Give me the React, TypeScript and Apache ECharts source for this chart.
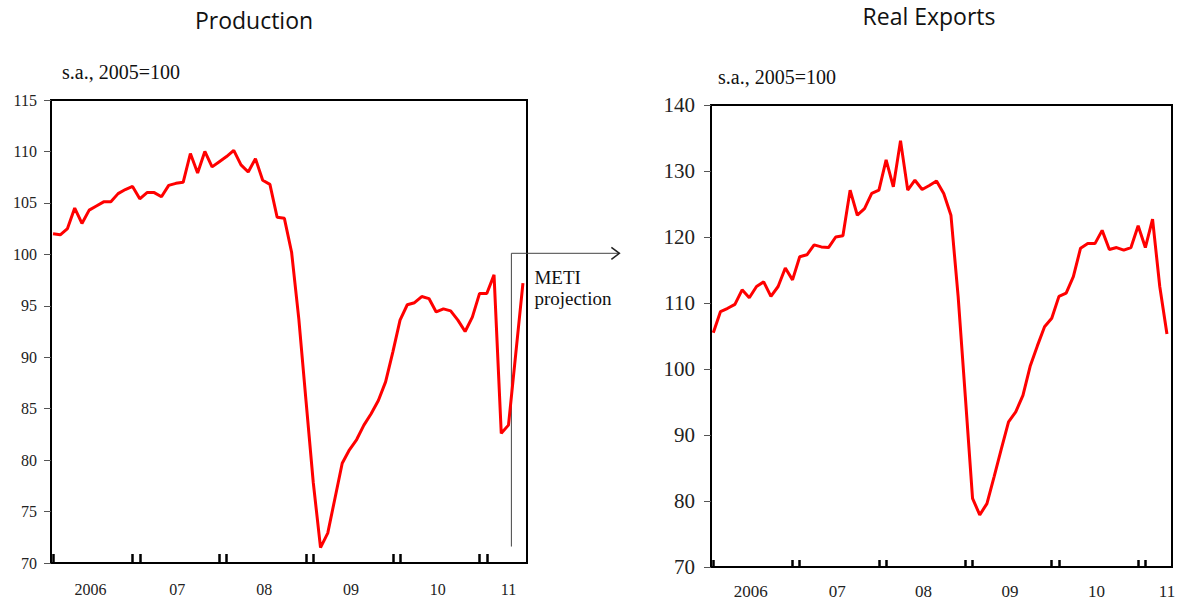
import React, { useEffect, useRef } from "react";
import * as echarts from "echarts";

// ---- Data (monthly, Jan 2006 onwards) ----
const yearLabels = ["2006", "07", "08", "09", "10", "11"];

// Production, s.a., 2005=100 (Jan 2006 – Jun 2011; May–Jun 2011 = METI projection)
const productionValues = [
  102.0, 101.9, 102.5, 104.5, 103.0, 104.3, 104.7, 105.1, 105.1, 105.9, 106.3, 106.6,
  105.4, 106.0, 106.0, 105.6, 106.7, 106.9, 107.0, 109.8, 107.9, 110.0, 108.5, 109.0,
  109.5, 110.1, 108.7, 108.0, 109.3, 107.2, 106.8, 103.6, 103.5, 100.2, 93.7, 85.7,
  77.8, 71.5, 72.9, 76.3, 79.7, 81.0, 82.0, 83.4, 84.5, 85.8, 87.6, 90.5,
  93.6, 95.1, 95.3, 95.9, 95.7, 94.4, 94.7, 94.5, 93.6, 92.5, 93.9, 96.2,
  96.2, 98.0, 82.6, 83.4, 90.3, 97.2,
];

// Real exports, s.a., 2005=100 (Jan 2006 – Apr 2011)
const exportValues = [
  105.5, 108.7, 109.2, 109.8, 112.0, 110.8, 112.5, 113.2, 111.0, 112.5, 115.3, 113.5,
  117.0, 117.3, 118.8, 118.5, 118.4, 120.0, 120.2, 127.1, 123.3, 124.3, 126.6, 127.1,
  131.7, 127.6, 134.6, 127.1, 128.6, 127.2, 127.8, 128.5, 126.6, 123.3, 111.0, 95.8,
  80.4, 77.9, 79.6, 83.7, 87.9, 92.0, 93.5, 96.0, 100.4, 103.5, 106.4, 107.7,
  111.0, 111.5, 114.0, 118.3, 119.0, 119.0, 121.0, 118.1, 118.4, 118.0, 118.4, 121.7,
  118.4, 122.7, 112.5, 105.3,
];

// METI projection marker: starts after April 2011 (month index 63)
const projectionStartIndex = 63.4;
const projectionTop = 100.1;
const projectionBottom = 71.6;

const serif = "'Liberation Serif', 'Times New Roman', serif";
const sans = "'Open Sans', 'Liberation Sans', sans-serif";

// tick positions at Dec/Jan pairs of each year boundary
const boundaryTicks = yearLabels.flatMap((_, k) => (k === 0 ? [0] : [12 * k - 1, 12 * k]));
const labelPositions = yearLabels.map((_, k) => (k === yearLabels.length - 1 ? 12 * k + 3 : 12 * k + 5.2));
const labelFor = (v: number) => {
  const k = labelPositions.findIndex((p) => Math.abs(p - v) < 1e-6);
  return k >= 0 ? yearLabels[k] : "";
};

function makeXAxis(gridIndex: number, min: number, max: number, fontSize: number, tickLen: number, margin: number) {
  return {
    type: "value",
    gridIndex,
    min,
    max,
    axisLine: { show: true, onZero: false, lineStyle: { color: "#000", width: 2 } },
    axisTick: {
      show: true,
      inside: true,
      length: tickLen,
      customValues: boundaryTicks,
      lineStyle: { color: "#000", width: 2.5 },
    },
    axisLabel: {
      show: true,
      customValues: labelPositions,
      formatter: (v: number) => labelFor(v),
      fontFamily: serif,
      fontSize,
      color: "#222",
      margin,
    },
    splitLine: { show: false },
  };
}

function makeYAxis(gridIndex: number, min: number, max: number, interval: number, fontSize: number, margin: number) {
  return {
    type: "value",
    gridIndex,
    min,
    max,
    interval,
    axisLine: { show: true, onZero: false, lineStyle: { color: "#000", width: 2 } },
    axisTick: { show: true, inside: false, length: 7, lineStyle: { color: "#555", width: 1 } },
    axisLabel: { fontFamily: serif, fontSize, color: "#222", margin },
    splitLine: { show: false },
  };
}

export default function App() {
  const ref = useRef<HTMLDivElement>(null);

  useEffect(() => {
    if (!ref.current) return;
    const chart = echarts.init(ref.current, undefined, { renderer: "svg", width: 1184, height: 601 });

    const option: any = {
      animation: false,
      backgroundColor: "#fff",
      grid: [
        { left: 51, top: 100, width: 476, height: 463, show: true, borderColor: "#000", borderWidth: 2, backgroundColor: "transparent" },
        { left: 711, top: 105, width: 461, height: 462, show: true, borderColor: "#000", borderWidth: 2, backgroundColor: "transparent" },
      ],
      xAxis: [
        makeXAxis(0, -0.28, 65.56, 16, 9, 18),
        makeXAxis(1, -0.32, 63.7, 17, 7, 16),
      ],
      yAxis: [
        makeYAxis(0, 70, 115, 5, 16, 14),
        makeYAxis(1, 70, 140, 10, 21, 16),
      ],
      series: [
        {
          type: "line",
          name: "Production",
          xAxisIndex: 0,
          yAxisIndex: 0,
          data: productionValues.map((v, i) => [i, v]),
          symbol: "none",
          lineStyle: { color: "#ff0000", width: 3 },
        },
        {
          type: "line",
          name: "Real Exports",
          xAxisIndex: 1,
          yAxisIndex: 1,
          data: exportValues.map((v, i) => [i, v]),
          symbol: "none",
          lineStyle: { color: "#ff0000", width: 3 },
        },
      ],
    };
    chart.setOption(option);

    const top = chart.convertToPixel({ gridIndex: 0 } as any, [projectionStartIndex, projectionTop]) as number[];
    const bottom = chart.convertToPixel({ gridIndex: 0 } as any, [projectionStartIndex, projectionBottom]) as number[];
    const px = top[0];
    const py = top[1];
    const arrowEnd = px + 108;

    chart.setOption({
      graphic: [
        { type: "text", x: 254, y: 20, style: { text: "Production", font: `23px ${sans}`, fill: "#111", textAlign: "center", textVerticalAlign: "middle" } },
        { type: "text", x: 929, y: 16, style: { text: "Real Exports", font: `23px ${sans}`, fill: "#111", textAlign: "center", textVerticalAlign: "middle" } },
        { type: "text", x: 62, y: 72, style: { text: "s.a., 2005=100", font: `20px ${serif}`, fill: "#111", textAlign: "left", textVerticalAlign: "middle" } },
        { type: "text", x: 718, y: 77, style: { text: "s.a., 2005=100", font: `20px ${serif}`, fill: "#111", textAlign: "left", textVerticalAlign: "middle" } },
        { type: "line", shape: { x1: px, y1: py, x2: px, y2: bottom[1] }, style: { stroke: "#444", lineWidth: 1 } },
        { type: "line", shape: { x1: px, y1: py, x2: arrowEnd, y2: py }, style: { stroke: "#444", lineWidth: 1 } },
        { type: "polyline", shape: { points: [[arrowEnd - 8, py - 6], [arrowEnd, py], [arrowEnd - 8, py + 6]] }, style: { stroke: "#222", lineWidth: 1.5, fill: "none" } },
        { type: "text", x: px + 23, y: py + 24, style: { text: "METI", font: `19px ${serif}`, fill: "#111", textAlign: "left", textVerticalAlign: "middle" } },
        { type: "text", x: px + 23, y: py + 45, style: { text: "projection", font: `19px ${serif}`, fill: "#111", textAlign: "left", textVerticalAlign: "middle" } },
      ],
    });

    return () => chart.dispose();
  }, []);

  return (
    <div
      ref={ref}
      style={{ position: "absolute", left: 0, top: 0, width: 1184, height: 601, background: "#fff" }}
    />
  );
}
